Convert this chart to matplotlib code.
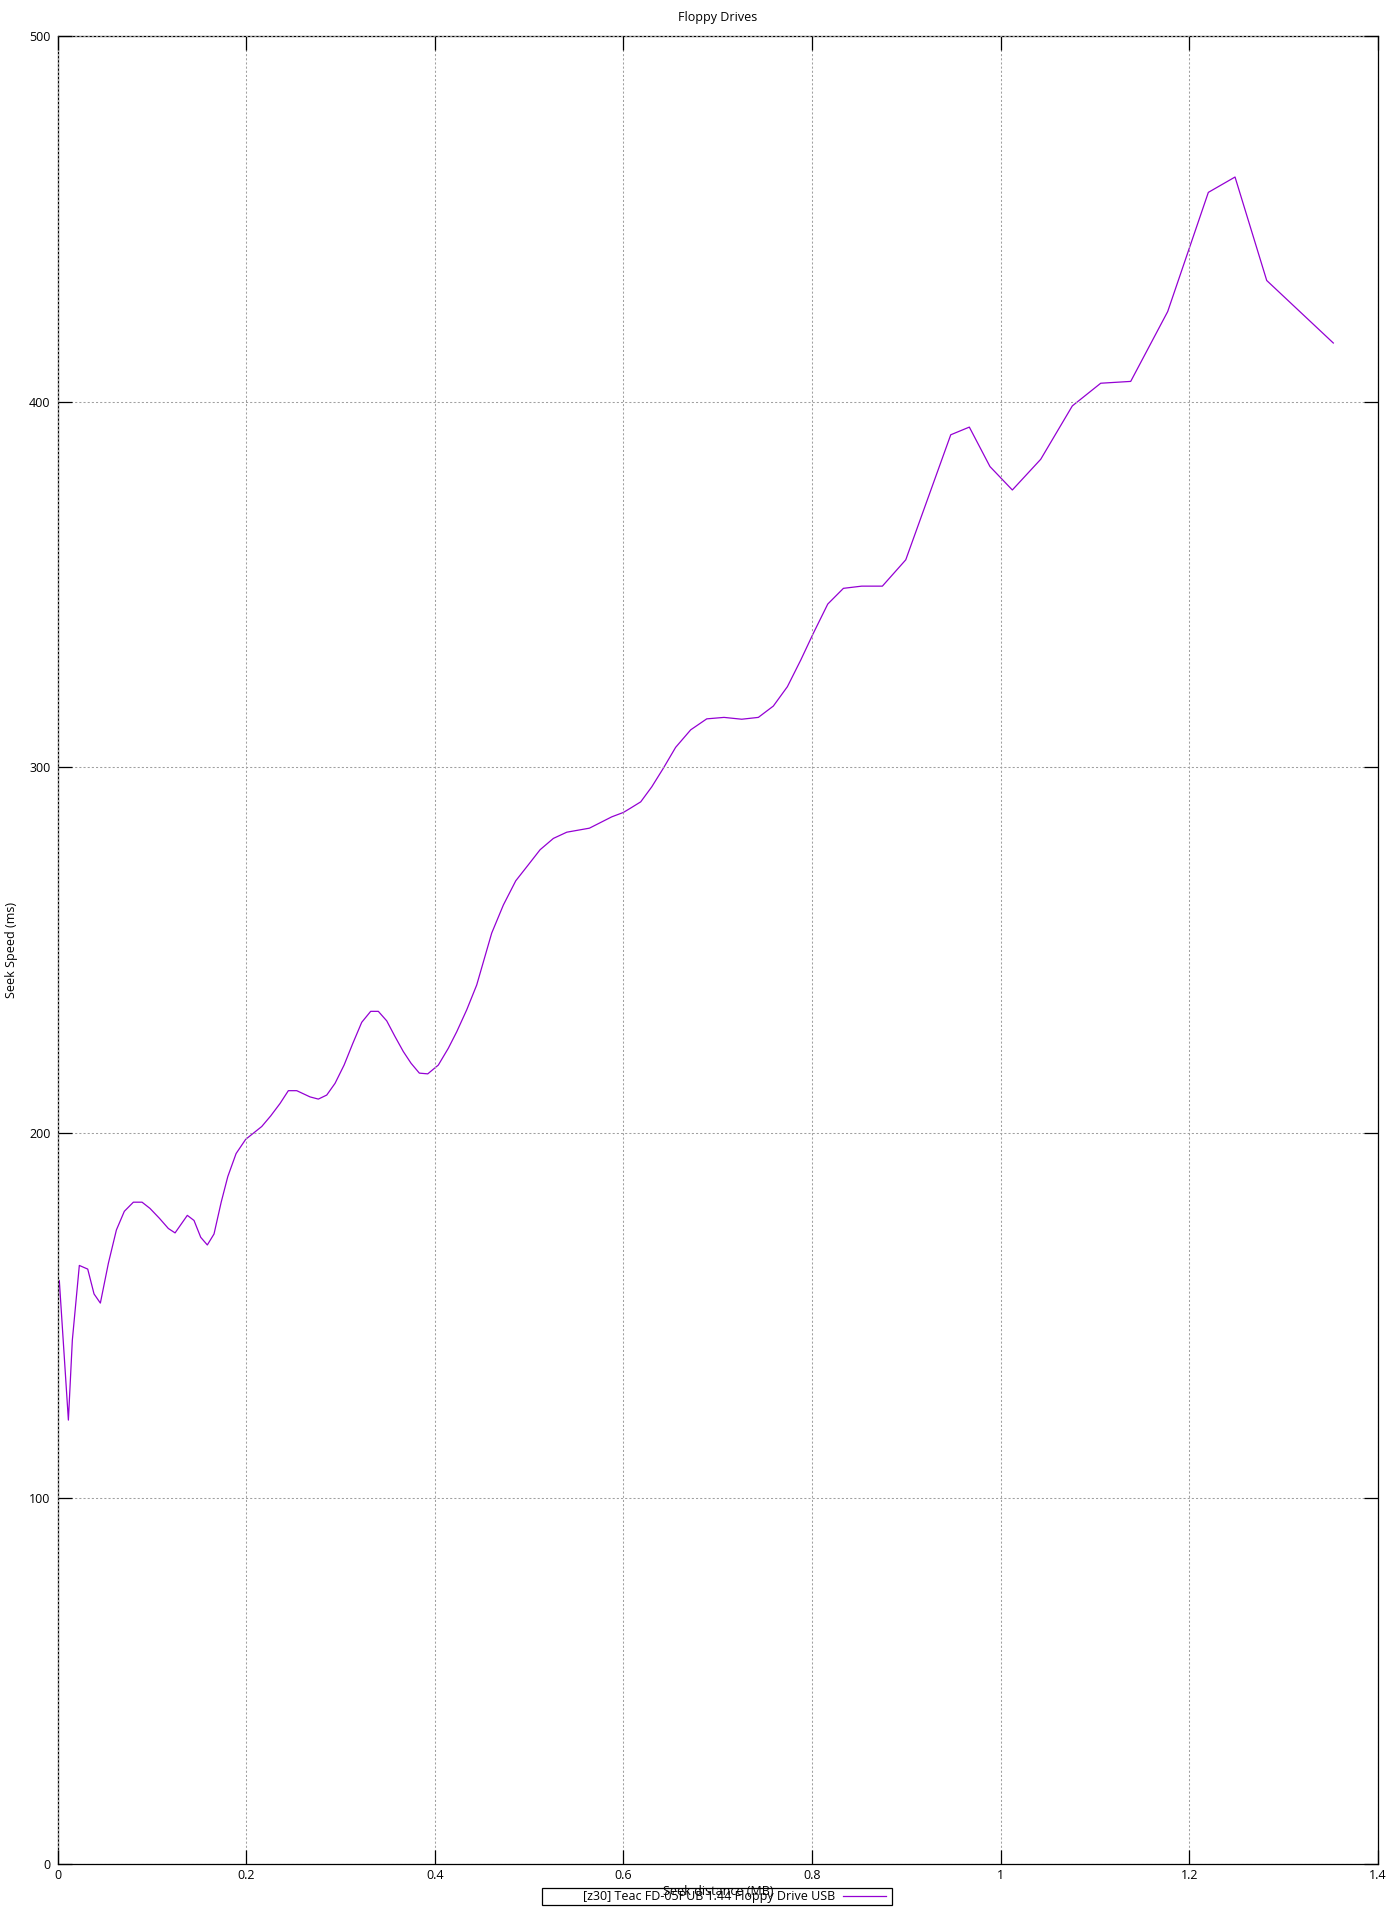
import matplotlib
matplotlib.use('Agg')
import matplotlib.pyplot as plt
from matplotlib.patches import Rectangle
from matplotlib.ticker import FuncFormatter

# seek distance (MB) and seek speed (ms)
distance = [0.0019, 0.0115, 0.0157, 0.0231, 0.032, 0.0387, 0.0454, 0.0539,
            0.0624, 0.0708, 0.0804, 0.0896, 0.098, 0.108, 0.1175, 0.1246,
            0.1376, 0.1447, 0.1518, 0.1588, 0.1659, 0.1735, 0.1805, 0.1893,
            0.1995, 0.2165, 0.226, 0.2359, 0.2447, 0.2536, 0.2677, 0.2765,
            0.2854, 0.2942, 0.3038, 0.313, 0.3225, 0.332, 0.3401, 0.349,
            0.3578, 0.3666, 0.3748, 0.3836, 0.3925, 0.4037, 0.4143, 0.4232,
            0.4338, 0.4444, 0.4603, 0.4727, 0.4858, 0.4992, 0.5116, 0.5257,
            0.5399, 0.5639, 0.5876, 0.5999, 0.607, 0.6183, 0.630, 0.6423,
            0.6553, 0.6713, 0.6883, 0.7066, 0.7254, 0.743, 0.7589, 0.7738,
            0.788, 0.8013, 0.8166, 0.8332, 0.8526, 0.8745, 0.8993, 0.947,
            0.9667, 0.9886, 1.0123, 1.0424, 1.0759, 1.106, 1.1378, 1.177,
            1.2201, 1.2484, 1.282, 1.3526]
speed = [159.5, 121.4, 143.3, 163.7, 162.7, 155.9, 153.4, 164.3,
         173.4, 178.5, 181.0, 181.0, 179.3, 176.6, 173.8, 172.6,
         177.4, 176.0, 171.4, 169.3, 172.3, 181.0, 188.0, 194.3,
         198.2, 201.7, 204.6, 208.0, 211.5, 211.5, 209.8, 209.2,
         210.3, 213.5, 218.5, 224.4, 230.2, 233.2, 233.2, 230.6,
         226.3, 222.2, 219.0, 216.3, 216.1, 218.5, 223.1, 227.6,
         233.6, 240.4, 254.6, 262.3, 268.9, 273.3, 277.4, 280.5,
         282.2, 283.3, 286.4, 287.6, 288.7, 290.5, 294.6, 299.7,
         305.4, 310.2, 313.2, 313.6, 313.1, 313.6, 316.7, 322.0,
         329.3, 336.6, 344.6, 348.9, 349.5, 349.5, 356.7, 390.9,
         393.0, 382.2, 375.8, 384.2, 398.8, 405.0, 405.5, 424.6,
         457.2, 461.4, 433.1, 416.0]

series_name = '[z30] Teac FD-05PUB 1.44 Floppy Drive USB'
x_ticks = [0, 0.2, 0.4, 0.6, 0.8, 1.0, 1.2, 1.4]
y_ticks = [0, 100, 200, 300, 400, 500]

plt.rcParams['font.family'] = ['Open Sans', 'DejaVu Sans']
plt.rcParams['font.size'] = 9

fig = plt.figure(figsize=(14, 19.2), dpi=100)
ax = fig.add_axes([0.0411, 0.0292, 0.9432, 0.9521])

line, = ax.plot(distance, speed, color='#9400d3', linewidth=0.9)

ax.set_xlim(0, 1.4)
ax.set_ylim(0, 500)
ax.set_xticks(x_ticks)
ax.set_yticks(y_ticks)
ax.xaxis.set_major_formatter(FuncFormatter(lambda v, p: f'{v:g}'))

ax.tick_params(direction='in', length=10, width=0.9, top=True, right=True,
               labelsize=9, color='black')
ax.tick_params(axis='x', pad=4)
ax.tick_params(axis='y', pad=5)
for s in ax.spines.values():
    s.set_linewidth(0.9)

ax.grid(True, color='#a0a0a0', linestyle=(0, (2, 2)), linewidth=0.75)
ax.set_axisbelow(False)

ax.set_title('Floppy Drives', fontsize=9, pad=11)
ax.set_xlabel('Seek distance (MB)', fontsize=9)
ax.xaxis.set_label_coords(0.5, -0.0115)
ax.set_ylabel('Seek Speed (ms)', fontsize=9)
ax.yaxis.set_label_coords(-0.0299, 0.5)

# key like gnuplot: text right-justified, sample on the right, boxed
leg = fig.legend([line], [series_name], loc='center right',
                 bbox_to_anchor=(886 / 1400, 1 - 1896.5 / 1920),
                 markerfirst=False, frameon=False, fontsize=9,
                 handlelength=3.44, borderpad=0, borderaxespad=0,
                 handletextpad=0.64)
fig.patches.append(Rectangle((542 / 1400, 1 - 1905 / 1920), 350 / 1400, 17 / 1920,
                             transform=fig.transFigure, fill=False,
                             edgecolor='black', linewidth=0.9))

fig.savefig('out.png', dpi=100)
